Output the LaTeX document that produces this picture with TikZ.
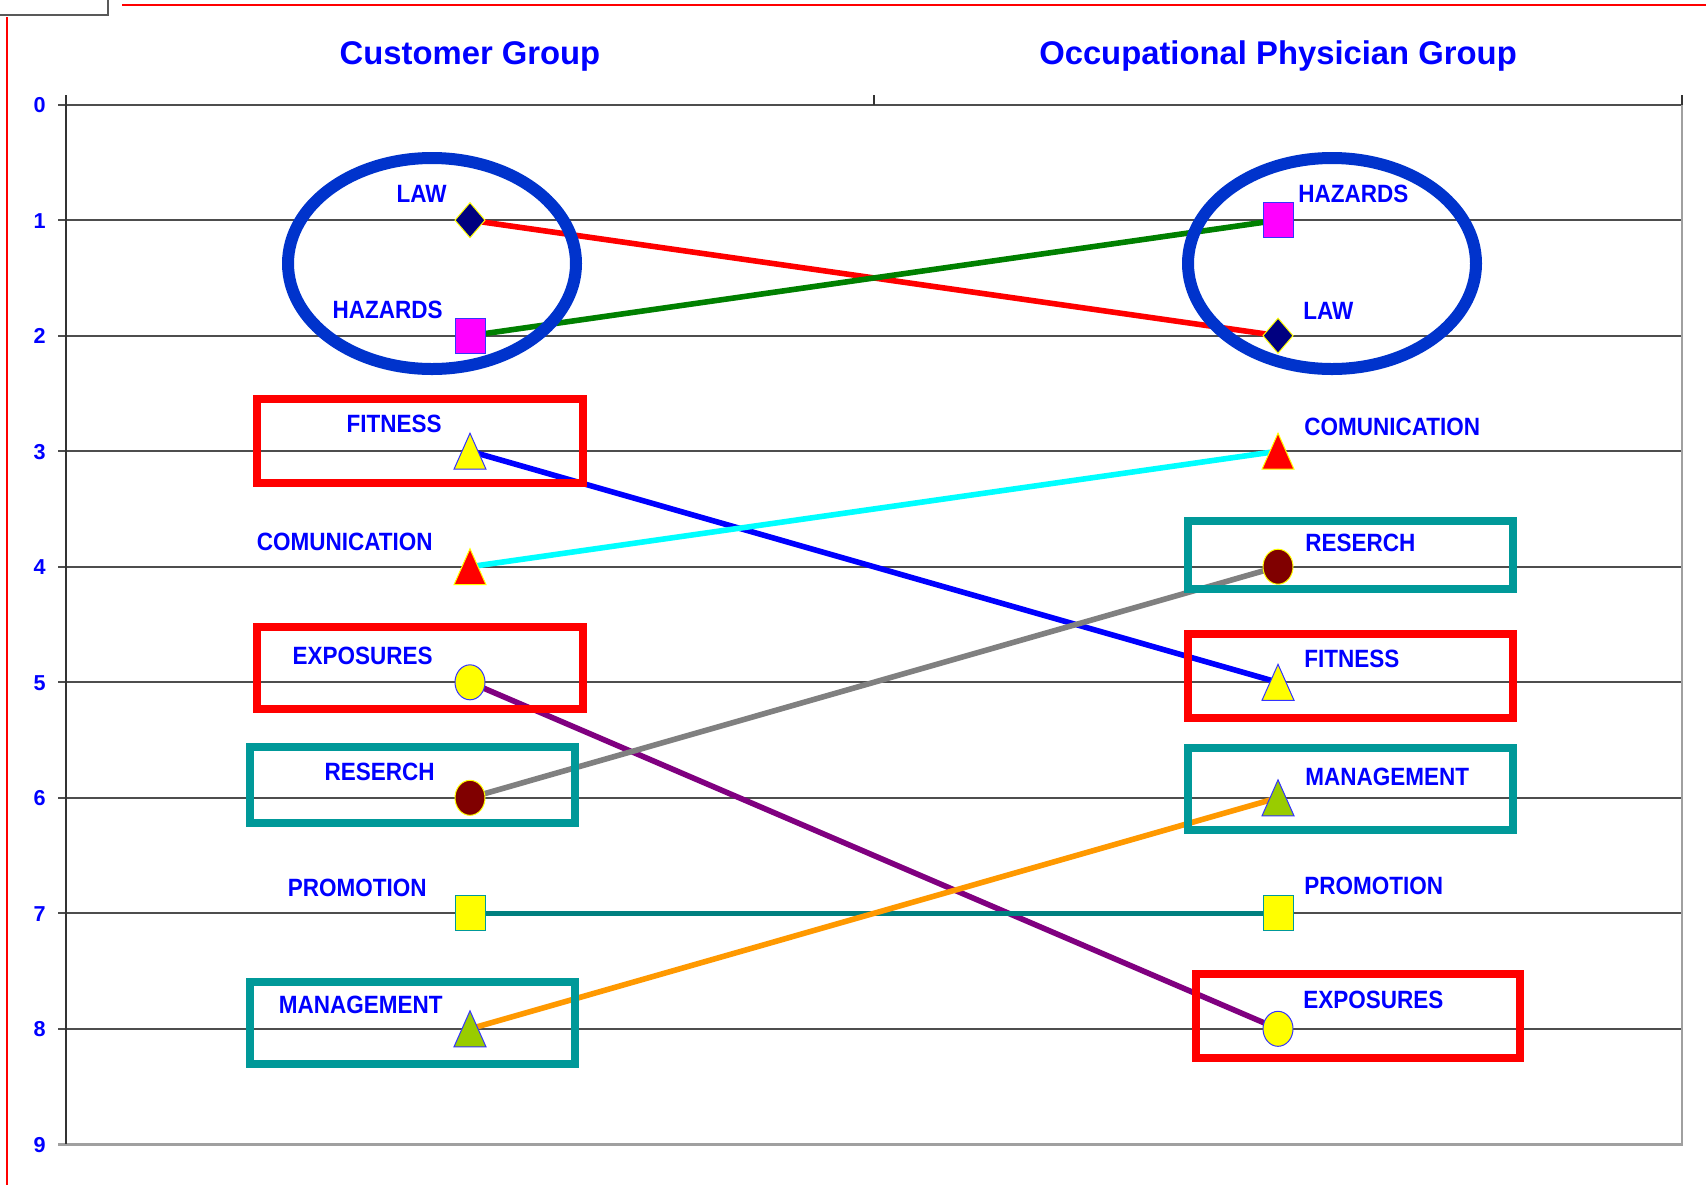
\documentclass[tikz,border=0pt]{standalone}
\usepackage{fontspec}
\setmainfont{Liberation Sans}
\usepackage{graphicx}
\definecolor{lblblue}{RGB}{0,0,255}
\definecolor{ellblue}{RGB}{0,51,204}
\definecolor{gridc}{RGB}{77,77,77}
\definecolor{lgrid}{RGB}{160,160,160}
\definecolor{navyc}{RGB}{0,0,128}
\definecolor{magc}{RGB}{255,0,255}
\definecolor{yelc}{RGB}{255,255,0}
\definecolor{redc}{RGB}{255,0,0}
\definecolor{maroonc}{RGB}{128,0,0}
\definecolor{limec}{RGB}{153,204,0}
\definecolor{tealline}{RGB}{0,128,128}
\definecolor{tealbox}{RGB}{0,153,153}
\definecolor{orangec}{RGB}{255,153,0}
\definecolor{purplec}{RGB}{128,0,128}
\definecolor{grayc}{RGB}{128,128,128}
\definecolor{cyanc}{RGB}{0,255,255}
\definecolor{greenc}{RGB}{0,128,0}
\definecolor{blueline}{RGB}{0,0,255}
\definecolor{mkblue}{RGB}{51,51,255}
\newcommand\lbltxt[1]{\scalebox{0.9}[1]{#1}}
\begin{document}
\begin{tikzpicture}[x=0.5pt,y=-0.5pt,
  gridline/.style={draw=gridc,line width=1pt},
  axlbl/.style={text=lblblue,inner sep=0,anchor=base east,font=\fontsize{10.8}{12}\selectfont\bfseries},
  ttl/.style={text=lblblue,inner sep=0,anchor=base,font=\fontsize{16.4}{18}\selectfont\bfseries},
  lblL/.style={text=lblblue,inner sep=0,anchor=base east,font=\fontsize{12.5}{14}\selectfont\bfseries},
  lblR/.style={text=lblblue,inner sep=0,anchor=base west,font=\fontsize{12.5}{14}\selectfont\bfseries},
  conn/.style={line width=2.8pt},
  mk/.style={line width=0.5pt},
  ell/.style={draw=ellblue,line width=6pt},
  redbox/.style={draw=redc,line width=4pt},
  tealbx/.style={draw=tealbox,line width=4pt},
  mdia/.pic={\path[pic actions] (0,-17.5) -- (15,0) -- (0,17.5) -- (-15,0) -- cycle;},
  msq/.pic={\path[pic actions] (-15,-17.5) rectangle (15,17.5);},
  mtri/.pic={\path[pic actions] (0,-18) -- (16,18) -- (-16,18) -- cycle;},
  mcirc/.pic={\path[pic actions] (0,0) ellipse [x radius=15, y radius=17.5];}
]
\useasboundingbox (0,0) rectangle (1706,1184);
\fill[white] (0,0) rectangle (1706,1184);
% frame decorations
\draw[draw=gray!70!black,fill=white,line width=1.2pt] (-5,-5) rectangle (108,15);
\draw[redc,line width=1pt] (7,17) -- (7,1190);
\draw[redc,line width=1pt] (122,5) -- (1710,5);
% grid
\foreach \v in {0,...,8}{
  \draw[gridline] (58,{104.7+115.51*\v}) -- (1682,{104.7+115.51*\v});
}
\draw[draw=lgrid,line width=1.2pt] (58,1144.3) -- (1683,1144.3);
\draw[draw=lgrid,line width=1.2pt] (1682,104.7) -- (1682,1144.3);
\draw[draw=black!80,line width=1pt] (66,95) -- (66,1144.3);
\draw[draw=black!80,line width=1pt] (874,95) -- (874,104.7);
\draw[draw=black!80,line width=1pt] (1682,95) -- (1682,104.7);
\foreach \v in {0,...,9}{
  \node[axlbl] (ax\v) at (46,{112.7+115.51*\v}) {\v};
}
% titles
\node[ttl] (t1) at (470,64) {Customer Group};
\node[ttl] (t2) at (1278,64) {Occupational Physician Group};
% marker positions
\coordinate (Llaw) at (470,220.2);
\coordinate (Lhaz) at (470,335.7);
\coordinate (Lfit) at (470,451.2);
\coordinate (Lcom) at (470,566.7);
\coordinate (Lexp) at (470,682.3);
\coordinate (Lres) at (470,797.8);
\coordinate (Lpro) at (470,913.3);
\coordinate (Lman) at (470,1028.8);
\coordinate (Rhaz) at (1278,220.2);
\coordinate (Rlaw) at (1278,335.7);
\coordinate (Rcom) at (1278,451.2);
\coordinate (Rres) at (1278,566.7);
\coordinate (Rfit) at (1278,682.3);
\coordinate (Rman) at (1278,797.8);
\coordinate (Rpro) at (1278,913.3);
\coordinate (Rexp) at (1278,1028.8);
% connectors
\draw[conn,redc] (Llaw) -- (Rlaw);
\draw[conn,greenc] (Lhaz) -- (Rhaz);
\draw[conn,blueline] (Lfit) -- (Rfit);
\draw[conn,cyanc] (Lcom) -- (Rcom);
\draw[conn,purplec] (Lexp) -- (Rexp);
\draw[conn,grayc] (Lres) -- (Rres);
\draw[conn,tealline] (Lpro) -- (Rpro);
\draw[conn,orangec] (Lman) -- (Rman);
% markers
\foreach \p in {Llaw,Rlaw}{\pic[mk,fill=navyc,draw=yelc] at (\p) {mdia};}
\foreach \p in {Lhaz,Rhaz}{\pic[mk,fill=magc,draw=mkblue] at (\p) {msq};}
\foreach \p in {Lfit,Rfit}{\pic[mk,fill=yelc,draw=mkblue] at (\p) {mtri};}
\foreach \p in {Lcom,Rcom}{\pic[mk,fill=redc,draw=yelc] at (\p) {mtri};}
\foreach \p in {Lexp,Rexp}{\pic[mk,fill=yelc,draw=mkblue] at (\p) {mcirc};}
\foreach \p in {Lres,Rres}{\pic[mk,fill=maroonc,draw=yelc] at (\p) {mcirc};}
\foreach \p in {Lpro,Rpro}{\pic[mk,fill=yelc,draw=tealbox] at (\p) {msq};}
\foreach \p in {Lman,Rman}{\pic[mk,fill=limec,draw=mkblue] at (\p) {mtri};}
% labels left
\node[lblL] (lLaw) at (447,202.7) {\lbltxt{LAW}};
\node[lblL] (lHaz) at (443,318.3) {\lbltxt{HAZARDS}};
\node[lblL] (lFit) at (442,432.7) {\lbltxt{FITNESS}};
\node[lblL] (lCom) at (433,550) {\lbltxt{COMUNICATION}};
\node[lblL] (lExp) at (433,664.3) {\lbltxt{EXPOSURES}};
\node[lblL] (lRes) at (435,780) {\lbltxt{RESERCH}};
\node[lblL] (lPro) at (427,896) {\lbltxt{PROMOTION}};
\node[lblL] (lMan) at (443,1013) {\lbltxt{MANAGEMENT}};
% labels right
\node[lblR] (rHaz) at (1298,202.7) {\lbltxt{HAZARDS}};
\node[lblR] (rLaw) at (1303,319.3) {\lbltxt{LAW}};
\node[lblR] (rCom) at (1304,435) {\lbltxt{COMUNICATION}};
\node[lblR] (rRes) at (1305,551.7) {\lbltxt{RESERCH}};
\node[lblR] (rFit) at (1304,667) {\lbltxt{FITNESS}};
\node[lblR] (rMan) at (1305,785) {\lbltxt{MANAGEMENT}};
\node[lblR] (rPro) at (1304,894) {\lbltxt{PROMOTION}};
\node[lblR] (rExp) at (1303,1008.3) {\lbltxt{EXPOSURES}};
% highlight shapes
\draw[ell] (432,263.5) ellipse [x radius=144, y radius=105.5];
\draw[ell] (1332,263.5) ellipse [x radius=144, y radius=105.5];
\draw[redbox] (257,399) rectangle (583,483);
\draw[redbox] (257,627) rectangle (583,709);
\draw[tealbx] (250,747) rectangle (575,823);
\draw[tealbx] (250,982) rectangle (575,1064);
\draw[tealbx] (1188,521) rectangle (1513,589);
\draw[redbox] (1188,634) rectangle (1513,718);
\draw[tealbx] (1188,748) rectangle (1513,830);
\draw[redbox] (1196,974) rectangle (1520,1058);
\end{tikzpicture}
\end{document}
